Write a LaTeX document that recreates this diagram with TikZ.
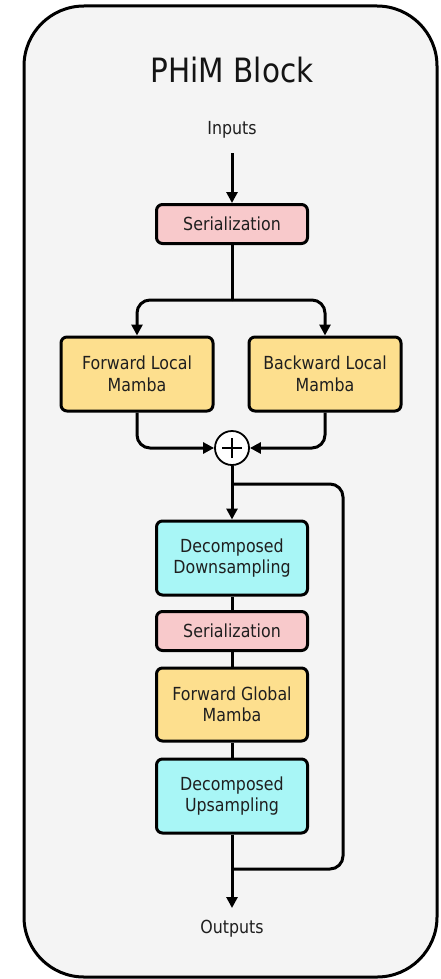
\documentclass[tikz,border=0pt]{standalone}
\usepackage{fontspec}
\setmainfont{DejaVu Sans}[FakeStretch=0.88]
\usetikzlibrary{arrows.meta}
\definecolor{pagebg}{HTML}{F4F4F4}
\definecolor{serfill}{HTML}{F8C9CB}
\definecolor{mambafill}{HTML}{FDDF8E}
\definecolor{samplefill}{HTML}{A8F6F6}
\tikzset{
  blk/.style={draw=black, line width=3pt, rounded corners=6pt, align=center,
    font=\fontsize{18}{21.5}\selectfont, text=black!88, inner sep=0pt},
  serbox/.style={blk, fill=serfill, minimum width=151pt, minimum height=39pt},
  mambabox/.style={blk, fill=mambafill, minimum width=152pt, minimum height=74pt},
  samplebox/.style={blk, fill=samplefill, minimum width=151pt, minimum height=74pt},
  label/.style={font=\fontsize{18}{21.5}\selectfont, text=black!88},
  conn/.style={line width=3pt, rounded corners=13pt},
  arr/.style={conn, -{Triangle[length=11pt,width=11pt]}},
}
\begin{document}
\begin{tikzpicture}[x=1pt,y=-1pt]
  \useasboundingbox (0,0) rectangle (441,979);
  % outer block frame
  \draw[fill=pagebg, line width=3pt, rounded corners=60pt] (24,6) rectangle (437,977);
  \node[font=\fontsize{33.5}{38}\selectfont, text=black!92] (title) at (232,70) {PHiM Block};

  \node[label] (in) at (232,130) {Inputs};
  \node[serbox] (ser1) at (232,224) {Serialization};
  \node[mambabox] (flm) at (137,374) {Forward Local\\Mamba};
  \node[mambabox] (blm) at (325,374) {Backward Local\\Mamba};
  \node[circle, draw=black, line width=1.8pt, fill=white, minimum size=34pt, inner sep=0pt] (sum) at (232,448) {};
  \draw[line width=1.8pt] ([xshift=-10pt]sum.center) -- ([xshift=10pt]sum.center)
                          ([yshift=-10pt]sum.center) -- ([yshift=10pt]sum.center);
  \node[samplebox] (down) at (232,558) {Decomposed\\Downsampling};
  \node[serbox] (ser2) at (232,631) {Serialization};
  \node[mambabox, minimum width=151pt, minimum height=73pt] (fgm) at (232,704.5) {Forward Global\\Mamba};
  \node[samplebox] (up) at (232,796) {Decomposed\\Upsampling};
  \node[label] (out) at (232,929) {Outputs};

  \coordinate (split) at (232,300);
  \coordinate (tap) at (232,484);
  \coordinate (join) at (232,869);
  \coordinate (skipx) at (343,0);
  \coordinate (tip) at (232,908);

  % input path
  \draw[arr] (232,153) -- (ser1.north);
  \draw[conn] (ser1.south) -- (split);
  \draw[arr] (split) -| (flm.north);
  \draw[arr] (split) -| (blm.north);
  % local branches merge
  \draw[arr] (flm.south) |- (sum.west);
  \draw[arr] (blm.south) |- (sum.east);
  % main path
  \draw[arr] (sum.south) -- (down.north);
  \draw[conn] (down.south) -- (ser2.north);
  \draw[conn] (ser2.south) -- (fgm.north);
  \draw[conn] (fgm.south) -- (up.north);
  \draw[arr] (up.south) -- (tip);
  % residual skip
  \draw[conn] (tap) -| (skipx |- join) -- (join);
\end{tikzpicture}
\end{document}
